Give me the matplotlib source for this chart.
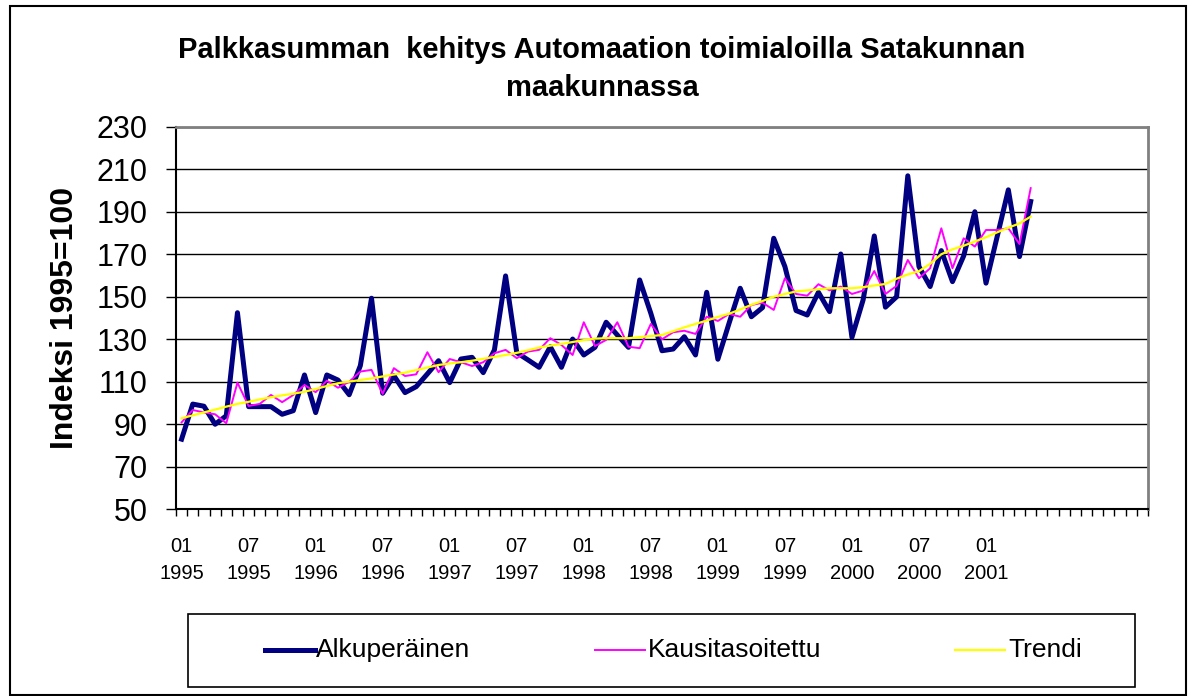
import numpy as np
import matplotlib
matplotlib.use("Agg")
import matplotlib.pyplot as plt
from matplotlib.patches import Rectangle
from matplotlib.lines import Line2D

plt.rcParams['font.family'] = ['Liberation Sans', 'DejaVu Sans']

# Kuukausittaiset indeksit 01/1995 - 05/2001 (1995=100)
alkuperainen = [83, 99.5, 98.5, 90, 94, 142.5, 98.3, 98.3, 98.3, 94.7,
                96.4, 113.2, 95.5, 113.2, 110.8, 103.9, 117.6, 149.3, 104.6, 112.9,
                104.9, 107.7, 113.7, 119.9, 109.6, 120.7, 121.5, 114.3, 125, 159.8,
                123.7, 120.3, 116.8, 126.5, 116.8, 130.1, 122.6, 126.2, 138, 132,
                126.2, 157.9, 142.2, 124.6, 125.4, 131.2, 122.6, 152.1, 120.6, 137.5,
                154, 140.6, 144.9, 177.5, 164.2, 143.5, 141.4, 152.1, 143, 170.1,
                130.9, 148.5, 178.6, 145.1, 150, 206.9, 164.2, 154.8, 171.7, 157.1,
                169.2, 190, 156.4, 178.3, 200.3, 168.9, 194.8]
kausitasoitettu = [90.9, 96.7, 95.6, 94.7, 90.5, 109.6, 98.6, 99.6, 103.8, 100.4,
                   103.8, 108.5, 105.1, 110.5, 107.2, 110, 114.8, 115.6, 104.3, 116.4,
                   112.7, 113.5, 123.9, 114.5, 120.7, 119.2, 117.4, 119.2, 123.4, 125,
                   121.1, 124.2, 125, 130.5, 127.3, 122.6, 138, 126.8, 129.7, 138,
                   126.5, 125.8, 137.2, 130, 133.3, 134, 132.5, 140.6, 138.6, 141.9,
                   140.6, 146.1, 147.2, 143.8, 158.7, 151.3, 150.5, 155.9, 153, 154.8,
                   151.3, 152.9, 162.1, 151.3, 155.1, 167.3, 158.7, 163.4, 182.2, 163.4,
                   177.5, 173.6, 181.4, 181.4, 182.2, 174.8, 201.1]
trendi = [92.8, 94.2, 95.6, 96.9, 98.3, 99.6, 100.6, 101.7, 102.7, 103.6,
          104.4, 105.3, 106.6, 108, 109.3, 110.1, 110.8, 111.6, 112.5, 113.4,
          114.3, 115.5, 116.7, 117.9, 118.6, 119.2, 119.9, 120.8, 121.7, 122.6,
          123.6, 124.8, 126.1, 127, 127.8, 128.7, 129.6, 130.3, 130.5, 130.5,
          130.5, 131, 131.5, 132, 133.8, 135.6, 137.2, 138.8, 140.5, 142,
          144, 146.2, 148, 150, 151.3, 152.5, 153, 153.5, 154, 154,
          154, 154.5, 155.3, 156, 158.5, 160.5, 162, 165.5, 170, 172.3,
          174, 176, 178, 180.3, 182.5, 184.5, 187.7]

n_kategoriat = 87
vuodet = [1995, 1995, 1996, 1996, 1997, 1997, 1998, 1998, 1999, 1999, 2000, 2000, 2001]
kuukaudet = ['01', '07'] * 6 + ['01']
x_labels = [f"{k}\n{v}" for k, v in zip(kuukaudet, vuodet)]

W, H = 1194, 696
fig = plt.figure(figsize=(W / 100, H / 100), dpi=100)
ax = fig.add_axes([176 / W, (H - 509.3) / H, (1148 - 176) / W, (509.3 - 126.7) / H])

x = np.arange(len(alkuperainen))
ax.plot(x, alkuperainen, color='#000080', linewidth=3.6, label='Alkuperäinen', zorder=3)
ax.plot(x, kausitasoitettu, color='#FF00FF', linewidth=1.4, label='Kausitasoitettu', zorder=4)
ax.plot(x, trendi, color='#FFFF00', linewidth=1.6, label='Trendi', zorder=5)

ax.set_xlim(-0.5, n_kategoriat - 0.5)
ax.set_ylim(50, 230)
ax.set_yticks(np.arange(50, 231, 20))
ax.yaxis.grid(True, color='black', linewidth=1.0)
ax.set_axisbelow(True)
ax.tick_params(axis='y', labelsize=22, length=7.5, width=1.0, pad=13, direction='out')

ax.set_xticks(np.arange(0, 73, 6))
ax.set_xticklabels(x_labels)
ax.set_xticks(np.arange(-0.5, n_kategoriat, 1), minor=True)
ax.tick_params(axis='x', which='major', length=0, labelsize=14.5, pad=20)
ax.tick_params(axis='x', which='minor', length=5, width=1.0, direction='out')
for lbl in ax.get_xticklabels():
    lbl.set_linespacing(1.55)

for side in ['top', 'right']:
    ax.spines[side].set_color('#808080')
    ax.spines[side].set_linewidth(2)
for side in ['left', 'bottom']:
    ax.spines[side].set_color('black')
    ax.spines[side].set_linewidth(1.5)

fig.text(602 / W, 1 - 50 / H, 'Palkkasumman  kehitys Automaation toimialoilla Satakunnan',
         ha='center', va='center', fontsize=21, fontweight='bold')
fig.text(602 / W, 1 - 88 / H, 'maakunnassa', ha='center', va='center', fontsize=21, fontweight='bold')
fig.text(65 / W, 1 - 318 / H, 'Indeksi 1995=100', ha='center', va='center', rotation=90,
         fontsize=23, fontweight='bold')

# ulkoreunus
fig.add_artist(Rectangle((10 / W, 1 / H), (1186 - 10) / W, (695 - 6) / H, transform=fig.transFigure,
                         fill=False, edgecolor='black', linewidth=1.5))

# selite
fig.add_artist(Rectangle((188 / W, 1 - 687 / H), (1135 - 188) / W, 73 / H, transform=fig.transFigure,
                         fill=False, edgecolor='black', linewidth=1.2))
entries = [(265, 315, 316, '#000080', 3.6, 'Alkuperäinen'),
           (595, 645, 648, '#FF00FF', 1.4, 'Kausitasoitettu'),
           (955, 1005, 1008, '#FFFF00', 1.6, 'Trendi')]
ly = 1 - 650 / H
for x0, x1, tx, col, lw, txt in entries:
    fig.add_artist(Line2D([x0 / W, x1 / W], [ly, ly], transform=fig.transFigure, color=col, linewidth=lw))
    fig.text(tx / W, ly, txt, ha='left', va='center', fontsize=19)

fig.savefig('out.png', dpi=100)
